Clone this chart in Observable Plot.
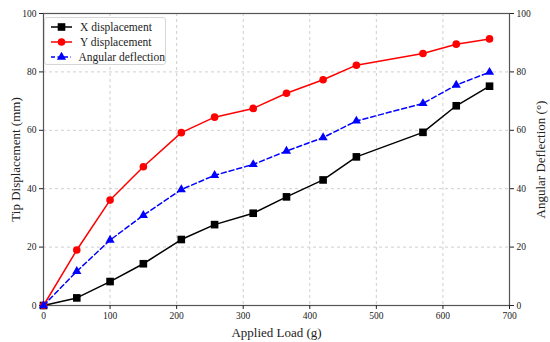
<!DOCTYPE html>
<html>
<head>
<meta charset="utf-8">
<script src="https://cdn.jsdelivr.net/npm/d3@7"></script>
<script src="https://cdn.jsdelivr.net/npm/@observablehq/plot@0.6"></script>
<style>
  body { margin: 0; background: #fff; }
  #wrap { position: relative; width: 550px; height: 342px; }
  #wrap svg text { font-family: "Liberation Serif", "DejaVu Serif", serif; }
  #legend { position: absolute; left: 44px; top: 17px; box-sizing: border-box; width: 122px; height: 48px; padding: 1px 0 0 0;
    border: 1px solid #d6d6d6; border-radius: 3px; background: rgba(255,255,255,0.9);
    font-family: "Liberation Serif", "DejaVu Serif", serif; font-size: 11.5px; color: #222; white-space: nowrap; }
  .item { display: flex; align-items: center; height: 15px; }
  .item svg { margin-left: 5px; margin-right: 7px; }
</style>
</head>
<body>
<div id="wrap"><div id="legend"></div></div>
<script>
const load = [0, 50, 100, 150, 207, 257, 315, 365, 420, 470, 570, 620, 670];
const xDisp = [0, 2.6, 8.2, 14.3, 22.6, 27.7, 31.6, 37.2, 43.0, 50.9, 59.3, 68.4, 75.1];
const yDisp = [0, 19.0, 36.1, 47.5, 59.2, 64.5, 67.5, 72.7, 77.3, 82.3, 86.3, 89.5, 91.3];
const angDef = [0, 11.7, 22.4, 30.9, 39.7, 44.6, 48.3, 52.9, 57.5, 63.2, 69.2, 75.5, 79.9];
const xTicks = [0, 100, 200, 300, 400, 500, 600, 700];
const yTicks = [0, 20, 40, 60, 80, 100];

const series = [
  {name: "X displacement", values: xDisp, color: "#000000", symbol: "square", r: 4.3, dash: null},
  {name: "Y displacement", values: yDisp, color: "#ff0000", symbol: "circle", r: 3.8, dash: null},
  {name: "Angular deflection", values: angDef, color: "#0000ff", symbol: "triangle", r: 3.4, dash: "5,3"}
];
const rows = series.flatMap(s => load.map((x, i) => ({x, y: s.values[i], name: s.name})));

const marks = [
  Plot.gridX(xTicks, {stroke: "#cfcfcf", strokeOpacity: 1, strokeDasharray: "3,3"}),
  Plot.gridY(yTicks, {stroke: "#cfcfcf", strokeOpacity: 1, strokeDasharray: "3,3"}),
  Plot.frame({stroke: "#555", strokeWidth: 1.2}),
  Plot.axisX(xTicks, {tickSize: 4, tickPadding: 3, fontSize: 9.5, label: "Applied Load (g)", labelAnchor: "center", labelArrow: "none", labelOffset: 31}),
  Plot.axisY(yTicks, {anchor: "left", tickSize: 4, tickPadding: 3, fontSize: 9.5, label: "Tip Displacement (mm)", labelAnchor: "center", labelArrow: "none", labelOffset: 33}),
  Plot.axisY(yTicks, {anchor: "right", tickSize: 4, tickPadding: 3, fontSize: 9.5, label: "Angular Deflection (°)", labelAnchor: "center", labelArrow: "none", labelOffset: 35})
];
for (const s of series) {
  const d = rows.filter(r => r.name === s.name);
  marks.push(Plot.line(d, {x: "x", y: "y", stroke: s.color, strokeWidth: 1.5, strokeDasharray: s.dash}));
  marks.push(Plot.dot(d, {x: "x", y: "y", fill: s.color, stroke: "none", symbol: s.symbol, r: s.r}));
}

const chart = Plot.plot({
  width: 550, height: 342,
  marginLeft: 43, marginRight: 41, marginTop: 13, marginBottom: 37,
  style: {fontFamily: "'Liberation Serif', 'DejaVu Serif', serif", fontSize: "10px", color: "#222", background: "#fff"},
  x: {domain: [0, 700]},
  y: {domain: [0, 100]},
  marks
});
d3.select(chart).selectAll("g[aria-label$='axis label'] text").attr("font-size", 13);
document.getElementById("wrap").prepend(chart);

const legend = document.getElementById("legend");
for (const s of series) {
  const item = document.createElement("div");
  item.className = "item";
  const sym = d3.symbol(s.symbol === "square" ? d3.symbolSquare : s.symbol === "circle" ? d3.symbolCircle : d3.symbolTriangle, Math.PI * s.r * s.r)();
  item.innerHTML = `<svg width="23" height="10"><line x1="1" y1="5" x2="22" y2="5" stroke="${s.color}" stroke-width="1.5" ${s.dash ? `stroke-dasharray="4,2.5"` : ""}/><path d="${sym}" transform="translate(11.5,5)" fill="${s.color}"/></svg><span>${s.name}</span>`;
  legend.appendChild(item);
}
</script>
</body>
</html>
